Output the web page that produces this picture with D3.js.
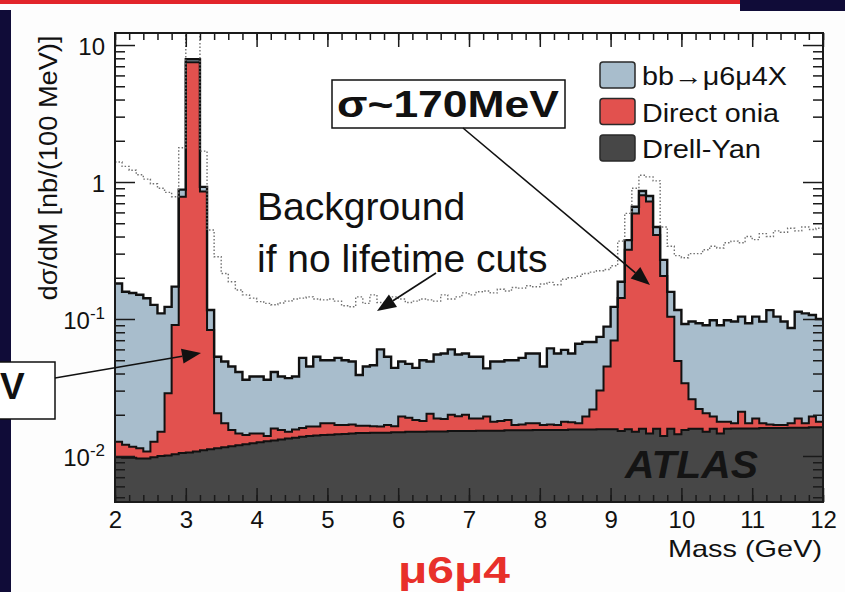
<!DOCTYPE html>
<html>
<head>
<meta charset="utf-8">
<script src="https://cdn.jsdelivr.net/npm/d3@7"></script>
<style>
  body { margin: 0; background: #fdfdfd; }
  svg text { font-family: "Liberation Sans", Arial, Helvetica, sans-serif; }
</style>
</head>
<body>
<svg id="chart" width="845" height="592"></svg>
<script>

// 100 MeV bins from 2 to 12 GeV
var binStart = 2.0;
var binWidth = 0.1;

// Drell-Yan, bottom of the stack (nb per 100 MeV)
var drellYan = [
  0.0098,0.0097,0.0097,0.0096,0.0096,0.0098,0.0100,0.0101,0.0103,0.0105,
  0.0106,0.0108,0.0110,0.0112,0.0114,0.0116,0.0118,0.0120,0.0122,0.0124,
  0.0126,0.0128,0.0130,0.0132,0.0134,0.0136,0.0138,0.0140,0.0141,0.0142,
  0.0143,0.0144,0.0145,0.0146,0.0147,0.0147,0.0148,0.0148,0.0148,0.0149,
  0.0149,0.0150,0.0150,0.0150,0.0151,0.0151,0.0151,0.0152,0.0152,0.0152,
  0.0152,0.0153,0.0153,0.0153,0.0153,0.0154,0.0154,0.0154,0.0154,0.0155,
  0.0155,0.0155,0.0155,0.0155,0.0156,0.0156,0.0156,0.0156,0.0157,0.0157,
  0.0157,0.0152,0.0157,0.0150,0.0158,0.0146,0.0158,0.0140,0.0158,0.0144,
  0.0155,0.0158,0.0158,0.0150,0.0158,0.0146,0.0158,0.0159,0.0159,0.0159,
  0.0159,0.0160,0.0160,0.0160,0.0160,0.0161,0.0161,0.0161,0.0162,0.0162
];

// Direct onia (J/psi and Upsilon peaks)
var directOnia = [
  0.0029,0.0024,0.0020,0.0018,0.0012,0.0029,0.0050,0.0186,0.080,0.77,
  7.49,7.49,0.84,0.072,0.0091,0.0057,0.0037,0.0026,0.0020,0.0022,
  0.0020,0.0012,0.0029,0.0023,0.0016,0.0020,0.0022,0.0024,0.0023,0.0031,
  0.0030,0.0024,0.0023,0.0024,0.0019,0.0019,0.0017,0.0016,0.0020,0.0016,
  0.0045,0.0040,0.0033,0.0030,0.0052,0.0037,0.0035,0.0048,0.0043,0.0048,
  0.0036,0.0035,0.0041,0.0025,0.0027,0.0029,0.0014,0.0016,0.0019,0.0018,
  0.0013,0.0015,0.0013,0.0023,0.0020,0.0017,0.0038,0.0062,0.0143,0.0293,
  0.054,0.127,0.304,0.575,0.784,0.705,0.394,0.192,0.088,0.035,
  0.0185,0.0102,0.0062,0.0055,0.0036,0.0032,0.0020,0.0014,0.0051,0.0014,
  0.0029,0.0013,0.0010,0.0008,0.0008,0.0012,0.0027,0.0012,0.0032,0.0016
];

// bb -> mu6mu4 X, top of the stack
var bbMuMu = [
  0.169,0.146,0.143,0.139,0.131,0.114,0.095,0.094,0.082,0.10,
  0.37,0.37,0.07,0.033,0.0325,0.0317,0.0295,0.0264,0.0218,0.0234,
  0.0234,0.0220,0.0251,0.0225,0.0220,0.0224,0.0360,0.0286,0.0366,0.0327,
  0.0327,0.0352,0.0332,0.0320,0.0224,0.0284,0.0295,0.0436,0.0362,0.0275,
  0.0296,0.0280,0.0257,0.0320,0.0287,0.0362,0.0374,0.0400,0.0355,0.0360,
  0.0342,0.0342,0.0242,0.0312,0.0310,0.0317,0.0332,0.0350,0.0387,0.0387,
  0.0282,0.0440,0.0392,0.0417,0.0384,0.0487,0.0486,0.0462,0.044,0.043,
  0.053,0.045,0.057,0.07,0.06,0.07,0.06,0.064,0.054,0.067,
  0.058,0.070,0.071,0.0695,0.0786,0.0722,0.0802,0.0787,0.083,0.0757,
  0.0852,0.0787,0.099,0.0872,0.0792,0.0687,0.0942,0.0927,0.0876,0.0822
];

// dotted: total background if no lifetime cuts
var noLifetimeCuts = [
  1.40,1.30,1.22,1.13,1.05,0.97,0.90,0.84,0.78,1.78,
  16,16,1.68,0.446,0.285,0.215,0.187,0.163,0.150,0.142,
  0.134,0.130,0.127,0.131,0.135,0.140,0.142,0.145,0.140,0.138,
  0.140,0.135,0.125,0.123,0.145,0.130,0.150,0.132,0.128,0.145,
  0.140,0.132,0.135,0.140,0.138,0.135,0.150,0.140,0.145,0.155,
  0.150,0.158,0.160,0.155,0.165,0.160,0.170,0.168,0.175,0.172,
  0.180,0.185,0.178,0.195,0.200,0.205,0.215,0.220,0.225,0.230,
  0.245,0.37,0.59,0.90,1.12,1.09,1.02,0.47,0.34,0.29,
  0.28,0.30,0.30,0.32,0.34,0.33,0.36,0.37,0.36,0.40,
  0.38,0.42,0.40,0.44,0.43,0.46,0.44,0.47,0.45,0.46
];

var seriesKeys = ["dy", "onia", "bb"];
var seriesNames = ["bb\u2192\u03bc6\u03bc4X", "Direct onia", "Drell-Yan"];
var xTickValues = [2, 3, 4, 5, 6, 7, 8, 9, 10, 11, 12];
var yTickValues = [0.01, 0.1, 1, 10];
var yTickBase = ["10", "10", "1", "10"];
var yTickExp = ["-2", "-1", "", ""];

var colors = {dy: "#474747", onia: "#e2514e", bb: "#a8bdcc"};

var plotLeft = 115, plotRight = 823, plotTop = 33, plotBottom = 502;
var yMin = 0.004614, yMax = 12.24;

var svg = d3.select("#chart");

// slide decoration
svg.append("rect").attr("width", 845).attr("height", 592).attr("fill", "#fdfdfd");
svg.append("rect").attr("x", 0).attr("y", 0).attr("width", 740).attr("height", 4).attr("fill", "#e2252b");
svg.append("rect").attr("x", 740).attr("y", 0).attr("width", 105).attr("height", 11).attr("fill", "#100c38");
svg.append("rect").attr("x", 0).attr("y", 10).attr("width", 11).attr("height", 582).attr("fill", "#100c38");

var x = d3.scaleLinear().domain([2, 12]).range([plotLeft, plotRight]);
var y = d3.scaleLog().domain([yMin, yMax]).range([plotBottom, plotTop]);

svg.append("clipPath").attr("id", "frameClip")
  .append("rect")
  .attr("x", plotLeft).attr("y", plotTop)
  .attr("width", plotRight - plotLeft).attr("height", plotBottom - plotTop);

svg.append("rect")
  .attr("x", plotLeft).attr("y", plotTop)
  .attr("width", plotRight - plotLeft).attr("height", plotBottom - plotTop)
  .attr("fill", "#ffffff");

var rows = drellYan.map(function(v, i){
  return {m: binStart + i * binWidth, dy: v, onia: directOnia[i], bb: bbMuMu[i], nc: noLifetimeCuts[i]};
});
// closing edge for the step curves
var last = rows[rows.length - 1];
rows.push({m: binStart + rows.length * binWidth, dy: last.dy, onia: last.onia, bb: last.bb, nc: last.nc});

var stacked = d3.stack().keys(seriesKeys)(rows);

var area = d3.area()
  .curve(d3.curveStepAfter)
  .x(function(d){ return x(d.data.m); })
  .y0(function(d){ return y(Math.max(d[0], yMin)); })
  .y1(function(d){ return y(d[1]); });

var outline = d3.line()
  .curve(d3.curveStepAfter)
  .x(function(d){ return x(d.data.m); })
  .y(function(d){ return y(d[1]); });

var plot = svg.append("g").attr("clip-path", "url(#frameClip)");

plot.selectAll(".layer")
  .data(stacked)
  .enter().append("path")
  .attr("class", "layer")
  .attr("fill", function(d){ return colors[d.key]; })
  .attr("d", area);

plot.selectAll(".edge")
  .data(stacked)
  .enter().append("path")
  .attr("class", "edge")
  .attr("fill", "none")
  .attr("stroke", "#111")
  .attr("stroke-width", function(d){ return d.key == "bb" ? 2.4 : 2; })
  .attr("d", outline);

var dotted = d3.line()
  .curve(d3.curveStepAfter)
  .x(function(d){ return x(d.m); })
  .y(function(d){ return y(d.nc); });

plot.append("path")
  .datum(rows)
  .attr("fill", "none")
  .attr("stroke", "#707070")
  .attr("stroke-width", 1.4)
  .attr("stroke-dasharray", "1.5,2")
  .attr("d", dotted);

// frame
svg.append("rect")
  .attr("x", plotLeft).attr("y", plotTop)
  .attr("width", plotRight - plotLeft).attr("height", plotBottom - plotTop)
  .attr("fill", "none")
  .attr("stroke", "#1a1a1a")
  .attr("stroke-width", 2);

// ticks
var xMinor = d3.range(2, 12.001, 0.2);
var yMinor = [];
[0.001, 0.01, 0.1, 1].forEach(function(dec){
  for (var k = 2; k < 10; k++){
    var v = dec * k;
    if (v > yMin && v < yMax) yMinor.push(v);
  }
});

function styleAxis(g){
  g.select(".domain").remove();
  g.selectAll(".tick line").attr("stroke", "#1a1a1a").attr("stroke-width", 1.5);
}

svg.append("g").attr("transform", "translate(0," + plotBottom + ")")
  .call(d3.axisBottom(x).tickValues(xTickValues).tickSize(-14).tickPadding(9).tickFormat(d3.format("d")))
  .call(styleAxis)
  .selectAll("text")
  .attr("font-size", 24)
  .attr("font-family", "Liberation Sans, Arial, sans-serif")
  .attr("fill", "#111");

svg.append("g").attr("transform", "translate(0," + plotBottom + ")")
  .call(d3.axisBottom(x).tickValues(xMinor).tickSize(-7).tickFormat(""))
  .call(styleAxis);

svg.append("g").attr("transform", "translate(0," + plotTop + ")")
  .call(d3.axisTop(x).tickValues(xTickValues).tickSize(-14).tickFormat(""))
  .call(styleAxis);

svg.append("g").attr("transform", "translate(0," + plotTop + ")")
  .call(d3.axisTop(x).tickValues(xMinor).tickSize(-7).tickFormat(""))
  .call(styleAxis);

svg.append("g").attr("transform", "translate(" + plotLeft + ",0)")
  .call(d3.axisLeft(y).tickValues(yTickValues).tickSize(-20).tickFormat(""))
  .call(styleAxis);

svg.append("g").attr("transform", "translate(" + plotLeft + ",0)")
  .call(d3.axisLeft(y).tickValues(yMinor).tickSize(-10).tickFormat(""))
  .call(styleAxis);

svg.append("g").attr("transform", "translate(" + plotRight + ",0)")
  .call(d3.axisRight(y).tickValues(yTickValues).tickSize(-20).tickFormat(""))
  .call(styleAxis);

svg.append("g").attr("transform", "translate(" + plotRight + ",0)")
  .call(d3.axisRight(y).tickValues(yMinor).tickSize(-10).tickFormat(""))
  .call(styleAxis);

// y tick labels with exponents
var yLab = svg.selectAll(".ylab")
  .data(yTickValues)
  .enter().append("text")
  .attr("class", "ylab")
  .attr("x", 105)
  .attr("y", function(d){ return y(d) + 10; })
  .attr("text-anchor", "end")
  .attr("font-size", 24)
  .attr("fill", "#111");

yLab.append("tspan").text(function(d, i){ return yTickBase[i]; });
yLab.append("tspan")
  .attr("font-size", 17)
  .attr("dy", -10)
  .text(function(d, i){ return yTickExp[i]; });

// axis titles
svg.append("text")
  .attr("x", 822).attr("y", 557)
  .attr("text-anchor", "end")
  .attr("font-size", 24)
  .attr("textLength", 154)
  .attr("lengthAdjust", "spacingAndGlyphs")
  .attr("fill", "#111")
  .text("Mass (GeV)");

svg.append("text")
  .attr("transform", "translate(57,168) rotate(-90)")
  .attr("text-anchor", "middle")
  .attr("font-size", 25)
  .attr("textLength", 265)
  .attr("lengthAdjust", "spacingAndGlyphs")
  .attr("fill", "#111")
  .text("d\u03c3/dM [nb/(100 MeV)]");

// legend, top entry is the top of the stack
var legendKeys = ["bb", "onia", "dy"];
var legendWidths = [145, 137, 119];
var legend = svg.selectAll(".leg")
  .data(legendKeys)
  .enter().append("g")
  .attr("class", "leg")
  .attr("transform", function(d, i){ return "translate(600," + (62 + i * 36.5) + ")"; });

legend.append("rect")
  .attr("width", 35).attr("height", 26)
  .attr("rx", 3)
  .attr("fill", function(d){ return colors[d]; })
  .attr("stroke", "#2a2a2a")
  .attr("stroke-width", 1.5);

legend.append("text")
  .attr("x", 42).attr("y", 23)
  .attr("font-size", 25)
  .attr("textLength", function(d, i){ return legendWidths[i]; })
  .attr("lengthAdjust", "spacingAndGlyphs")
  .attr("fill", "#111")
  .text(function(d, i){ return seriesNames[i]; });

svg.append("text")
  .attr("x", 625).attr("y", 478)
  .attr("font-size", 38)
  .attr("font-weight", "bold")
  .attr("font-style", "italic")
  .attr("textLength", 133)
  .attr("lengthAdjust", "spacingAndGlyphs")
  .attr("fill", "#141414")
  .text("ATLAS");

// annotations
function arrow(x1, y1, x2, y2){
  var len = 19, half = 7.5;
  var dx = x2 - x1, dy = y2 - y1;
  var d = Math.sqrt(dx * dx + dy * dy);
  var ux = dx / d, uy = dy / d;
  var bx = x2 - ux * len, by = y2 - uy * len;
  svg.append("line")
    .attr("x1", x1).attr("y1", y1).attr("x2", bx).attr("y2", by)
    .attr("stroke", "#111").attr("stroke-width", 1.6);
  svg.append("polygon")
    .attr("points", [[x2, y2], [bx - uy * half, by + ux * half], [bx + uy * half, by - ux * half]].join(" "))
    .attr("fill", "#111");
}

svg.append("rect")
  .attr("x", 332).attr("y", 80).attr("width", 233).attr("height", 48)
  .attr("fill", "#fff").attr("stroke", "#111").attr("stroke-width", 1.5);
svg.append("text")
  .attr("x", 337).attr("y", 117)
  .attr("font-size", 37).attr("font-weight", "bold")
  .attr("textLength", 222).attr("lengthAdjust", "spacingAndGlyphs")
  .attr("fill", "#111")
  .text("\u03c3~170MeV");
arrow(463, 128, 650, 285);

svg.append("rect")
  .attr("x", -2).attr("y", 362).attr("width", 57).attr("height", 57)
  .attr("fill", "#fff").attr("stroke", "#111").attr("stroke-width", 1.5);
svg.append("text")
  .attr("x", 0).attr("y", 399)
  .attr("font-size", 37).attr("font-weight", "bold")
  .attr("fill", "#111")
  .text("V");
arrow(55, 378, 201, 353);

svg.append("text")
  .attr("x", 257).attr("y", 220)
  .attr("font-size", 39)
  .attr("fill", "#111")
  .text("Background");
svg.append("text")
  .attr("x", 257).attr("y", 272)
  .attr("font-size", 39)
  .attr("fill", "#111")
  .text("if no lifetime cuts");
arrow(436, 273, 377, 311);

svg.append("text")
  .attr("x", 398).attr("y", 583)
  .attr("font-size", 36).attr("font-weight", "bold")
  .attr("textLength", 112).attr("lengthAdjust", "spacingAndGlyphs")
  .attr("fill", "#e8302a")
  .text("\u03bc6\u03bc4");

</script>
</body>
</html>
